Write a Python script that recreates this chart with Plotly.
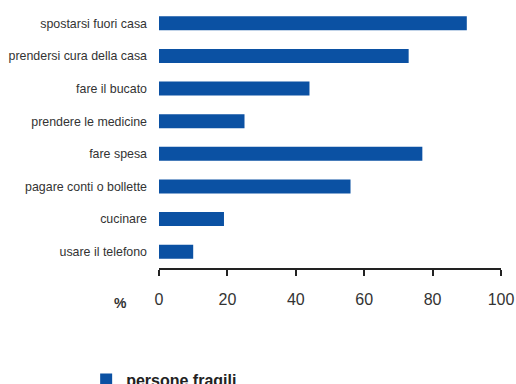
import plotly.graph_objects as go

categories = [
    "spostarsi fuori casa",
    "prendersi cura della casa",
    "fare il bucato",
    "prendere le medicine",
    "fare spesa",
    "pagare conti o bollette",
    "cucinare",
    "usare il telefono",
]
values = [90, 73, 44, 25, 77, 56, 19, 10]
series_name = "persone fragili"
x_ticks = [0, 20, 40, 60, 80, 100]

FONT = "Arial, Liberation Sans, sans-serif"

fig = go.Figure()
fig.add_trace(go.Bar(
    y=categories,
    x=values,
    orientation="h",
    name="<b>" + series_name + "</b>",
    marker=dict(color="#0B51A3", line=dict(width=0)),
    width=0.43,
    showlegend=True,
))

fig.update_layout(
    width=516,
    height=384,
    margin=dict(l=159, r=15, t=7, b=116, autoexpand=False),
    paper_bgcolor="white",
    plot_bgcolor="white",
    font=dict(family=FONT, color="#333333"),
    showlegend=True,
    legend=dict(
        x=-0.213, y=-0.362, xanchor="left", yanchor="top",
        orientation="h",
        font=dict(size=16, color="#222222", family=FONT),
        bgcolor="rgba(0,0,0,0)",
        itemwidth=30,
    ),
    xaxis=dict(
        range=[0, 100],
        tickvals=x_ticks,
        ticktext=[str(t) for t in x_ticks],
        showgrid=False,
        zeroline=False,
        showline=True,
        linecolor="#222222",
        linewidth=2,
        ticks="outside",
        ticklen=6,
        tickwidth=2,
        tickcolor="#222222",
        tickfont=dict(size=16, color="#333333"),
        ticklabelstandoff=10,
        automargin=False,
        fixedrange=True,
    ),
    yaxis=dict(
        categoryorder="array",
        categoryarray=categories[::-1],
        range=[-0.5, 7.5],
        showgrid=False,
        zeroline=False,
        showline=False,
        ticks="",
        tickfont=dict(size=12.4, color="#333333"),
        ticklabelstandoff=11,
        automargin=False,
        fixedrange=True,
    ),
)

fig.add_annotation(
    text="<b>%</b>", xref="paper", yref="paper",
    x=-0.114, y=-0.134, xanchor="center", yanchor="middle",
    showarrow=False, font=dict(size=14, color="#333333", family=FONT),
)

fig.write_html(
    "out.html",
    config={"displayModeBar": False},
    post_script="document.body.style.margin='0';document.body.style.overflow='hidden';",
)
